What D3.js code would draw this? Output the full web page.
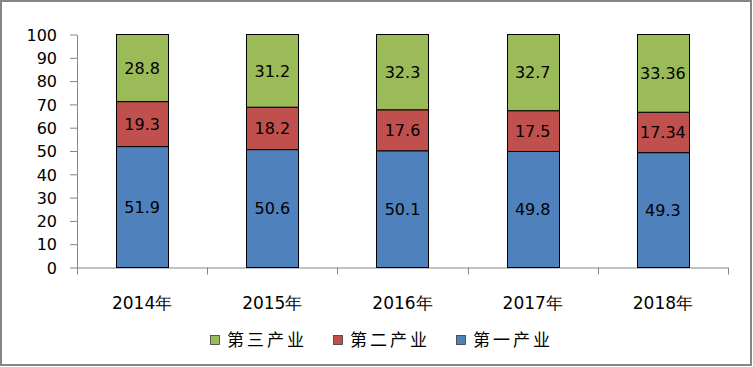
<!DOCTYPE html>
<html>
<head>
<meta charset="utf-8">
<script src="https://cdn.jsdelivr.net/npm/d3@7"></script>
<style>
  body { margin: 0; background: #fff; }
  svg { display: block; }
  .axis text { font-family: "DejaVu Sans", sans-serif; font-size: 16px; fill: #000; }
  .axis .lbl { font-size: 17px; }
  .axis path, .axis line { stroke: #868686; }
</style>
</head>
<body>
<svg class="chart" width="753" height="367"></svg>
<script>
var years = ["2014年", "2015年", "2016年", "2017年", "2018年"];
var primary = [51.9, 50.6, 50.1, 49.8, 49.3];     // 第一产业
var secondary = [19.3, 18.2, 17.6, 17.5, 17.34];  // 第二产业
var tertiary = [28.8, 31.2, 32.3, 32.7, 33.36];   // 第三产业
var yTicks = [0, 10, 20, 30, 40, 50, 60, 70, 80, 90, 100];

var seriesKeys = ["第一产业", "第二产业", "第三产业"];
var colors = { "第一产业": "#4F81BD", "第二产业": "#C0504D", "第三产业": "#9BBB59" };
var legendKeys = ["第三产业", "第二产业", "第一产业"];

var margin = {top: 34.5, left: 77, right: 25, bottom: 99.5},
    width = 753 - margin.left - margin.right,
    height = 367 - margin.top - margin.bottom;

var svg = d3.select(".chart");

// outer frame
svg.append("rect")
    .attr("x", 1).attr("y", 1)
    .attr("width", 750).attr("height", 364)
    .attr("fill", "#fff")
    .attr("stroke", "#868686")
    .attr("stroke-width", 2);

var g = svg.append("g")
    .attr("transform", "translate(" + margin.left + "," + margin.top + ")");

var rows = years.map(function(y, i) {
    return { year: y, "第一产业": primary[i], "第二产业": secondary[i], "第三产业": tertiary[i] };
});

var x = d3.scaleBand().domain(years).range([0, width]).padding(0);
var y = d3.scaleLinear().domain([0, 100]).range([height, 0]);

var stack = d3.stack().keys(seriesKeys);
var layers = stack(rows);

var barW = x.bandwidth() * 0.4;

// y axis
g.append("g")
    .attr("class", "axis y")
    .call(d3.axisLeft(y).tickValues(yTicks).tickSize(7).tickPadding(13).tickSizeOuter(0))
    .selectAll("text").attr("dy", "0.36em");

// x axis, ticks sit on the category boundaries
var xAxisG = g.append("g")
    .attr("class", "axis x")
    .attr("transform", "translate(0," + height + ")");
xAxisG.append("line")
    .attr("x1", 0).attr("x2", width)
    .attr("y1", 0.5).attr("y2", 0.5);
xAxisG.selectAll(".bound")
    .data(years.concat(["end"]))
    .enter().append("line")
    .attr("class", "bound")
    .attr("x1", function(d, i) { return Math.round(i * x.step()) + 0.5; })
    .attr("x2", function(d, i) { return Math.round(i * x.step()) + 0.5; })
    .attr("y1", 0).attr("y2", 7);
xAxisG.selectAll(".lbl")
    .data(years)
    .enter().append("text")
    .attr("class", "lbl")
    .attr("x", function(d) { return x(d) + x.bandwidth() / 2; })
    .attr("y", 35)
    .attr("text-anchor", "middle")
    .attr("dy", "0.36em")
    .text(function(d) { return d; });

// bars
var layer = g.selectAll(".layer")
    .data(layers)
    .enter().append("g")
    .attr("class", "layer")
    .attr("fill", function(d) { return colors[d.key]; });

layer.selectAll("rect")
    .data(function(d) { return d; })
    .enter().append("rect")
    .attr("x", function(d) { return Math.round(x(d.data.year) + (x.bandwidth() - barW) / 2) + 0.5; })
    .attr("y", function(d) { return y(d[1]); })
    .attr("width", Math.round(barW))
    .attr("height", function(d) { return y(d[0]) - y(d[1]); })
    .attr("stroke", "#000")
    .attr("stroke-width", 1);

layer.selectAll(".val")
    .data(function(d) { return d.map(function(p) { p.key = d.key; return p; }); })
    .enter().append("text")
    .attr("class", "val")
    .attr("x", function(d) { return x(d.data.year) + x.bandwidth() / 2; })
    .attr("y", function(d) { return (y(d[0]) + y(d[1])) / 2; })
    .attr("dy", "0.36em")
    .attr("text-anchor", "middle")
    .attr("fill", "#000")
    .style("font-family", "'DejaVu Sans', sans-serif")
    .style("font-size", "16px")
    .text(function(d) { return d.data[d.key]; });

// legend
var legend = svg.append("g")
    .attr("transform", "translate(210,340)");

var item = legend.selectAll(".item")
    .data(legendKeys)
    .enter().append("g")
    .attr("class", "item")
    .attr("transform", function(d, i) { return "translate(" + (i * 123) + ",0)"; });

item.append("rect")
    .attr("x", 0.5).attr("y", -4.5)
    .attr("width", 9).attr("height", 9)
    .attr("fill", function(d) { return colors[d]; })
    .attr("stroke", "#3a3a3a")
    .attr("stroke-width", 0.8);

item.append("text")
    .attr("x", 17)
    .attr("y", 0)
    .attr("dy", "0.36em")
    .style("font-family", "'Noto Sans CJK SC', sans-serif")
    .style("font-size", "17px")
    .style("letter-spacing", "3px")
    .attr("fill", "#000")
    .text(function(d) { return d; });
</script>
</body>
</html>
